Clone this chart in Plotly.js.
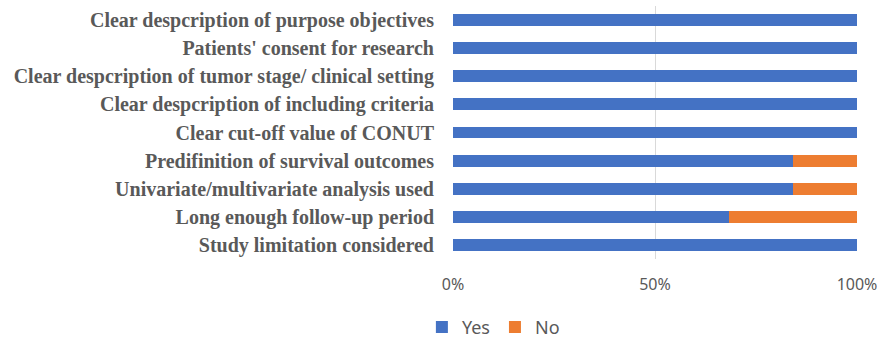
<!DOCTYPE html>
<html>
<head>
<meta charset="utf-8">
<script src="https://cdn.plot.ly/plotly-3.0.1.min.js"></script>
<style>html,body{margin:0;padding:0;background:#fff;}#chart{width:877px;height:338px;}</style>
</head>
<body>
<div id="chart"></div>
<script>
const categories = [
  "Clear despcription of purpose objectives",
  "Patients' consent for research",
  "Clear despcription of tumor stage/ clinical setting",
  "Clear despcription of including criteria",
  "Clear cut-off value of CONUT",
  "Predifinition of survival outcomes",
  "Univariate/multivariate analysis used",
  "Long enough follow-up period",
  "Study limitation considered"
];
const yesCounts = [19, 19, 19, 19, 19, 16, 16, 13, 19];
const noCounts  = [0, 0, 0, 0, 0, 3, 3, 6, 0];
const xTickVals = [0, 50, 100];
const xTickText = ["0%", "50%", "100%"];

const traces = [
  {type: 'bar', orientation: 'h', name: 'Yes', y: categories, x: yesCounts,
   marker: {color: '#4472C4'}, hoverinfo: 'none'},
  {type: 'bar', orientation: 'h', name: 'No', y: categories, x: noCounts,
   marker: {color: '#ED7D31'}, hoverinfo: 'none'}
];

const layout = {
  width: 877, height: 338,
  margin: {l: 453, r: 20, t: 6, b: 79, autoexpand: false},
  barmode: 'stack',
  barnorm: 'percent',
  bargap: 0.58,
  paper_bgcolor: '#ffffff', plot_bgcolor: '#ffffff',
  showlegend: true,
  legend: {orientation: 'h', traceorder: 'normal',
           x: -0.077, xref: 'paper', xanchor: 'left',
           y: -0.27, yref: 'paper', yanchor: 'middle',
           font: {family: 'Noto Sans, DejaVu Sans, sans-serif', size: 18, color: '#595959'},
           itemwidth: 30, tracegroupgap: 0},
  xaxis: {range: [0, 100], tickvals: xTickVals, ticktext: xTickText,
          showgrid: true, gridcolor: '#d9d9d9', gridwidth: 1, zeroline: false,
          showline: false, ticks: '', ticklabelstandoff: 14, ticklabeloverflow: 'allow',
          tickfont: {family: 'Noto Sans, DejaVu Sans, sans-serif', size: 16, color: '#595959'},
          fixedrange: true},
  yaxis: {categoryorder: 'array', categoryarray: categories.slice().reverse(),
          type: 'category',
          showgrid: false, zeroline: false, showline: false, ticks: '',
          ticklabelstandoff: 18,
          tickfont: {family: 'Liberation Serif, Times New Roman, serif', size: 20, color: '#595959', weight: 'bold'},
          fixedrange: true}
};

Plotly.newPlot('chart', traces, layout, {displayModeBar: false, staticPlot: true});
</script>
</body>
</html>
